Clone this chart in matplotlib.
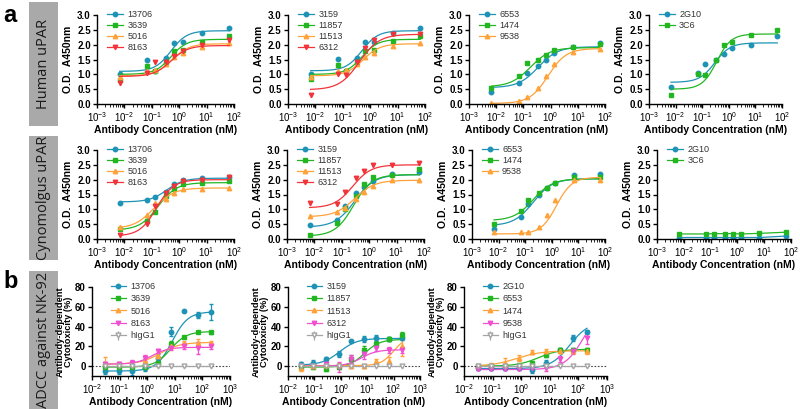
import numpy as np
import matplotlib
matplotlib.use('Agg')
import matplotlib.pyplot as plt
from matplotlib.ticker import LogLocator, NullFormatter, MultipleLocator, FormatStrFormatter
from matplotlib.patches import Rectangle

plt.rcParams['font.family'] = ['Liberation Sans', 'DejaVu Sans']
plt.rcParams['mathtext.default'] = 'bf'

teal = '#1e93b5'; green = '#22b722'; orange = '#ffa23a'; red = '#f2333a'
pink = '#f04fd0'; grey = '#a5a5a5'

conc_elisa = [0.0067, 0.067, 0.133, 0.333, 0.667, 1.333, 6.67, 66.7]
conc_adcc = [0.0305, 0.0914, 0.274, 0.823, 2.47, 7.41, 22.2, 66.7, 200]

# ---- a, Human uPAR ----
hu1_labels = ['13706', '3639', '5016', '8163']
hu1_values = [[1.02, 1.50, 1.10, 1.55, 2.05, 2.10, 2.40, 2.55],
              [0.82, 1.28, 1.10, 1.42, 1.78, 1.82, 2.10, 2.30],
              [0.90, 1.10, 1.15, 1.35, 1.60, 1.72, 1.92, 2.05],
              [0.70, 1.05, 1.42, 1.40, 1.62, 1.80, 2.00, 2.15]]
hu1_fits = [(1.10, 2.47, 0.50, 1.5), (1.00, 2.18, 0.50, 1.5),
            (0.95, 2.03, 0.55, 1.4), (0.93, 1.97, 0.50, 1.4)]

hu2_labels = ['3159', '11857', '11513', '6312']
hu2_values = [[1.02, 1.52, 1.10, 1.55, 2.08, 2.10, 2.40, 2.57],
              [0.83, 1.30, 1.10, 1.42, 1.78, 1.82, 2.12, 2.28],
              [0.90, 1.10, 1.15, 1.35, 1.60, 1.72, 1.95, 2.05],
              [0.30, 1.02, 0.97, 1.40, 1.90, 2.15, 2.35, 2.35]]
hu2_fits = [(1.12, 2.47, 0.50, 1.5), (1.00, 2.18, 0.50, 1.5),
            (0.95, 2.03, 0.55, 1.4), (0.48, 2.35, 0.40, 1.2)]

hu3_labels = ['6553', '1474', '9538']
hu3_values = [[0.42, 0.72, 1.05, 1.27, 1.50, 1.72, 1.93, 2.05],
              [0.55, 0.93, 1.38, 1.47, 1.65, 1.82, 1.92, 2.02],
              [0.05, 0.10, 0.25, 0.55, 0.95, 1.35, 1.75, 1.85]]
hu3_fits = [(0.55, 1.93, 0.35, 1.2), (0.58, 1.90, 0.18, 1.2), (0.02, 1.87, 0.80, 1.3)]

hu4_labels = ['2G10', '3C6']
hu4_values = [[0.57, 1.05, 1.35, 1.48, 1.68, 1.90, 2.00, 2.28],
              [0.30, 1.02, 0.98, 1.48, 2.00, 2.10, 2.33, 2.50]]
hu4_fits = [(0.73, 2.06, 0.30, 1.5), (0.50, 2.36, 0.35, 1.6)]

# ---- a, Cynomolgus uPAR ----
cy1_labels = ['13706', '3639', '5016', '8163']
cy1_values = [[1.20, 1.30, 1.42, 1.60, 1.85, 1.98, 2.05, 2.08],
              [0.35, 0.60, 0.90, 1.45, 1.68, 1.85, 1.90, 1.95],
              [0.40, 0.80, 1.20, 1.35, 1.55, 1.70, 1.70, 1.72],
              [0.15, 0.50, 1.10, 1.55, 1.80, 1.95, 2.00, 2.10]]
cy1_fits = [(1.25, 2.05, 0.35, 1.4), (0.30, 1.90, 0.17, 1.3),
            (0.35, 1.72, 0.12, 1.2), (0.10, 2.00, 0.15, 1.4)]

cy2_labels = ['3159', '11857', '11513', '6312']
cy2_values = [[0.47, 0.65, 1.10, 1.55, 1.75, 1.95, 2.20, 2.25],
              [0.15, 0.55, 1.00, 1.45, 1.85, 2.10, 2.15, 2.35],
              [0.77, 0.92, 1.05, 1.35, 1.60, 1.80, 1.98, 2.00],
              [1.20, 1.18, 1.58, 2.05, 2.30, 2.50, 2.50, 2.55]]
cy2_fits = [(0.40, 2.17, 0.30, 1.2), (0.10, 2.17, 0.27, 1.3),
            (0.75, 1.98, 0.30, 1.2), (1.05, 2.50, 0.25, 1.3)]

cy3_labels = ['6553', '1474', '9538']
cy3_values = [[0.33, 0.75, 1.18, 1.50, 1.72, 1.88, 2.15, 2.20],
              [0.52, 0.95, 1.32, 1.55, 1.72, 1.88, 2.10, 2.10],
              [0.22, 0.25, 0.25, 0.40, 0.80, 1.30, 2.00, 2.00]]
cy3_fits = [(0.45, 2.03, 0.20, 1.2), (0.62, 2.03, 0.20, 1.2), (0.17, 2.08, 1.50, 1.5)]

cy4_labels = ['2G10', '3C6']
cy4_values = [[0.05, 0.05, 0.05, 0.05, 0.05, 0.05, 0.05, 0.10],
              [0.17, 0.17, 0.18, 0.18, 0.18, 0.17, 0.19, 0.23]]

# ---- b, ADCC against NK-92 ----
ad1_labels = ['13706', '3639', '5016', '8163', 'hIgG1']
ad1_values = [[-5, -5, -5, -2, 8, 35, 56, 52, 55],
              [-1, -1, -1, -1, 3, 22, 29, 35, 34],
              [3, 2, 2, 5, 10, 20, 23, 23, 23],
              [2, 2, 3, 8, 15, 18, 20, 18, 20],
              [0, 0, 0, 0, 0, 0, 0, 0, 0]]
ad1_errors = [[3, 3, 4, 3, 4, 5, 1, 3, 8],
              [2, 2, 2, 2, 3, 3, 1, 1, 2],
              [6, 2, 2, 3, 3, 2, 2, 4, 2],
              [2, 2, 3, 3, 2, 2, 3, 6, 3],
              [0, 0, 0, 0, 0, 0, 0, 0, 0]]
ad1_fits = [(-5, 55, 8.0, 1.5), (-1, 35, 7.0, 1.5), (2, 24, 3.0, 1.2), (2, 19, 1.5, 1.5)]

ad2_labels = ['3159', '11857', '11513', '6312', 'hIgG1']
ad2_values = [[2, 3, 7, 12, 25, 27, 28, 27, 28],
              [-1, -1, -3, -1, 7, 16, 22, 27, 31],
              [-2, 0, 1, 1, 0, 0, 5, 5, 20],
              [0, 0, 2, -1, 7, 12, 18, 16, 16],
              [0, 0, 0, 0, 0, 0, 0, 0, 0]]
ad2_errors = [[2, 3, 2, 3, 1, 3, 3, 2, 2],
              [2, 2, 2, 2, 4, 4, 3, 2, 3],
              [3, 2, 2, 2, 2, 2, 2, 4, 10],
              [2, 2, 3, 5, 4, 5, 3, 3, 3],
              [0, 0, 0, 0, 0, 0, 0, 0, 0]]
ad2_fits = [(1, 28, 0.9, 1.3), (-1, 27, 8.0, 1.5), (0.5, 30, 100, 1.8), (0, 16.5, 6.0, 1.5)]

ad3_labels = ['2G10', '6553', '1474', '9538', 'hIgG1']
ad3_values = [[-2, -2, -2, -2, -4, 3, 16, 28, 35],
              [0, 0, 0, 1, 3, 11, 16, 16, 16],
              [0, 1, 3, 8, 14, 15, 15, 15, 15],
              [-3, -3, -3, -3, -2, -2, 7, 15, 28],
              [0, 0, 0, 0, 0, 0, 0, 0, 0]]
ad3_errors = [[2, 2, 2, 2, 3, 3, 2, 3, 2],
              [1, 1, 1, 1, 2, 2, 2, 2, 2],
              [2, 2, 5, 3, 2, 2, 2, 2, 3],
              [1, 1, 1, 1, 3, 3, 3, 3, 6],
              [0, 0, 0, 0, 0, 0, 0, 0, 0]]
ad3_fits = [(-2.5, 45, 50, 1.3), (0, 17, 4.0, 1.2), (0, 15.5, 0.7, 1.0), (-3.5, 60, 150, 1.3)]

cols4 = [teal, green, orange, red]
marks4 = ['o', 's', '^', 'v']
cols_ad = [teal, green, orange, pink, grey]
marks_ad = ['o', 's', '^', 'v', 'v']


def hill(x, p):
    b, t, ec, h = p
    return b + (t - b) / (1 + (ec / x) ** h)


def W(px):
    return px / 800.0


def H(px):
    return px / 409.0


fig = plt.figure(figsize=(8, 4.09), dpi=100)


def style(ax, xlo, xhi):
    ax.set_xscale('log')
    ax.set_xlim(xlo, xhi)
    ax.xaxis.set_major_locator(LogLocator(base=10, numticks=10))
    ax.xaxis.set_minor_locator(LogLocator(base=10, subs=np.arange(2, 10), numticks=20))
    ax.xaxis.set_minor_formatter(NullFormatter())
    for s in ['top', 'right']:
        ax.spines[s].set_visible(False)
    for s in ['left', 'bottom']:
        ax.spines[s].set_linewidth(1.0)
    ax.tick_params(which='major', length=3, width=1, labelsize=7, pad=1.5)
    ax.tick_params(which='minor', length=1.8, width=0.6)
    for lab in ax.get_yticklabels():
        lab.set_fontweight('bold')
    ax.set_xlabel('Antibody Concentration (nM)', fontsize=7.5, fontweight='bold', labelpad=1)


def legend(ax, x0, y0, sp):
    leg = ax.legend(loc='upper left', bbox_to_anchor=(x0, y0), frameon=False, fontsize=6.5,
                    handlelength=1.7, labelspacing=sp, handletextpad=0.5, borderaxespad=0)
    for tx in leg.get_texts():
        tx.set_color('#333333')


def elisa(box, labels, values, fits, colors, marks):
    l, t, w = box
    ax = fig.add_axes([W(l), 1 - H(t + 89), W(w), H(89)])
    xs = np.logspace(np.log10(conc_elisa[0]), np.log10(conc_elisa[-1]), 200)
    for i in range(len(labels)):
        if fits is not None:
            ax.plot(xs, hill(xs, fits[i]), color=colors[i], lw=0.9)
            ax.plot(conc_elisa, values[i], marks[i], color=colors[i], ms=3.2, ls='none')
            ax.plot([], [], marker=marks[i], color=colors[i], ms=3.2, lw=0.9, label=labels[i])
        else:
            ax.plot(conc_elisa, values[i], marker=marks[i], color=colors[i], ms=3.2, lw=0.9,
                    label=labels[i])
    ax.set_ylim(0, 3.0)
    ax.yaxis.set_major_locator(MultipleLocator(0.5))
    ax.yaxis.set_major_formatter(FormatStrFormatter('%.1f'))
    style(ax, 1e-3, 1e2)
    ax.set_ylabel('O.D.  A450nm', fontsize=7.5, fontweight='bold', labelpad=3)
    legend(ax, 0.05, 1.10, 0.22)
    return ax


def adcc(box, labels, values, errors, fits, colors, marks):
    l, t, w = box
    ax = fig.add_axes([W(l), 1 - H(t + 89), W(w), H(89)])
    xs = np.logspace(np.log10(conc_adcc[0]), np.log10(conc_adcc[-1]), 200)
    ax.axhline(0, color='#444444', lw=0.8, ls=(0, (1.5, 1.5)))
    for i in range(len(labels)):
        if labels[i] == 'hIgG1':
            ax.errorbar(conc_adcc, values[i], yerr=errors[i], marker='v', color=grey, mfc='white',
                        mec=grey, ms=3.5, lw=0.9, label=labels[i])
        else:
            ax.plot(xs, hill(xs, fits[i]), color=colors[i], lw=0.9)
            ax.errorbar(conc_adcc, values[i], yerr=errors[i], fmt=marks[i], color=colors[i],
                        ms=3.2, elinewidth=0.9, capsize=1.5)
            ax.plot([], [], marker=marks[i], color=colors[i], ms=3.2, lw=0.9, label=labels[i])
    ax.set_ylim(-10, 80)
    ax.set_yticks([0, 20, 40, 60, 80])
    style(ax, 1e-2, 1e3)
    ax.set_ylabel('Antibody-dependent\nCytotoxicity (%)', fontsize=6.7, fontweight='bold',
                  labelpad=1, linespacing=1.0)
    legend(ax, 15.0 / w, 1.10, 0.38)
    return ax


elisa((97, 15, 137), hu1_labels, hu1_values, hu1_fits, cols4, marks4)
elisa((288, 15, 137), hu2_labels, hu2_values, hu2_fits, cols4, marks4)
elisa((469, 15, 136), hu3_labels, hu3_values, hu3_fits, cols4, marks4)
elisa((649, 15, 133), hu4_labels, hu4_values, hu4_fits, [teal, green], ['o', 's'])

elisa((97, 150, 137), cy1_labels, cy1_values, cy1_fits, cols4, marks4)
elisa((287, 150, 137), cy2_labels, cy2_values, cy2_fits, cols4, marks4)
elisa((472, 150, 133), cy3_labels, cy3_values, cy3_fits, cols4, marks4)
elisa((657, 150, 134), cy4_labels, cy4_values, None, [teal, green], ['o', 's'])

adcc((92, 287, 138), ad1_labels, ad1_values, ad1_errors, ad1_fits, cols_ad, marks_ad)
adcc((288, 287, 132), ad2_labels, ad2_values, ad2_errors, ad2_fits, cols_ad, marks_ad)
adcc((464, 287, 143), ad3_labels, ad3_values, ad3_errors, ad3_fits, cols_ad, marks_ad)

# grey side boxes
boxes = [(2, 126, 'Human uPAR'), (136, 260, 'Cynomolgus uPAR'), (271, 409, 'ADCC against NK-92')]
for top, bot, txt in boxes:
    fig.patches.append(Rectangle((W(29), 1 - H(bot)), W(29), H(bot - top), transform=fig.transFigure,
                                 facecolor='#a9a9a9', edgecolor='none', zorder=-5))
    fig.text(W(43.5), 1 - H((top + bot) / 2), txt, rotation=90, ha='center', va='center',
             fontsize=10.5, color='#1a1a1a', family=['Open Sans', 'DejaVu Sans'])

fig.text(W(3), 1 - H(15), 'a', fontsize=17, fontweight='bold', va='center')
fig.text(W(3), 1 - H(282), 'b', fontsize=17, fontweight='bold', va='center')

fig.savefig('out.png', dpi=100)
